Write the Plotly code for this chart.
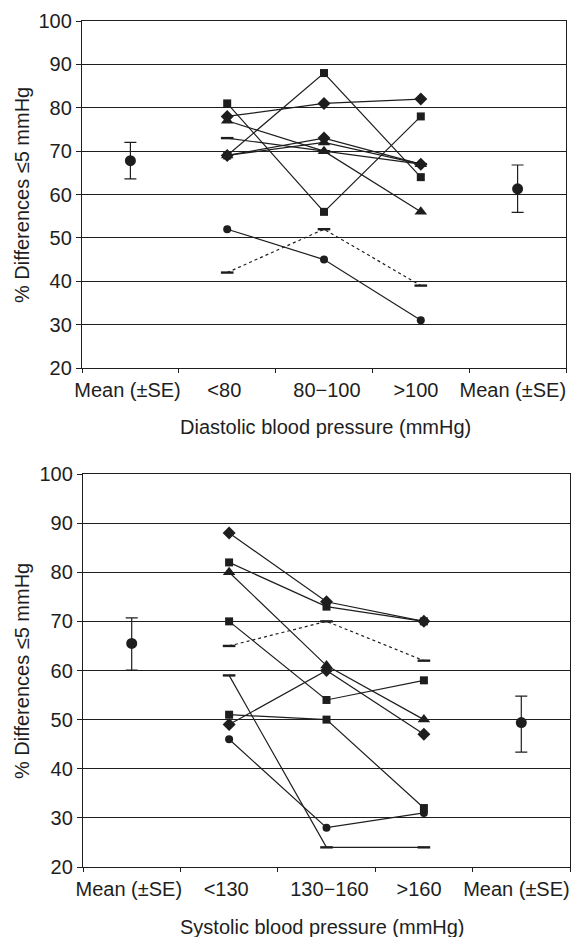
import plotly.graph_objects as go

# ---------------- data ----------------
dia_categories = ["Mean (±SE)", "<80", "80−100", ">100", "Mean (±SE)"]
sys_categories = ["Mean (±SE)", "<130", "130−160", ">160", "Mean (±SE)"]
y_tick_values = [20, 30, 40, 50, 60, 70, 80, 90, 100]

# Diastolic panel: values at the three pressure groups
dia_diamond_a = [78, 81, 82]
dia_square_a = [81, 56, 78]
dia_square_b = [69, 88, 64]
dia_diamond_b = [69, 73, 67]
dia_triangle_a = [69, 72, 67]
dia_dash_a = [73, 70, 67]
dia_triangle_b = [77, 70, 56]
dia_circle_a = [52, 45, 31]
dia_dotted_a = [42, 52, 39]

dia_mean_left = 67.8
dia_mean_left_se_plus = 4.2
dia_mean_left_se_minus = 4.2
dia_mean_right = 61.3
dia_mean_right_se_plus = 5.5
dia_mean_right_se_minus = 5.4

# Systolic panel
sys_diamond_a = [88, 74, 70]
sys_square_a = [82, 73, 70]
sys_triangle_a = [80, 61, 50]
sys_square_b = [70, 54, 58]
sys_dotted_a = [65, 70, 62]
sys_dash_a = [59, 24, 24]
sys_square_c = [51, 50, 32]
sys_diamond_b = [49, 60, 47]
sys_circle_a = [46, 28, 31]

sys_mean_left = 65.5
sys_mean_left_se_plus = 5.2
sys_mean_left_se_minus = 5.4
sys_mean_right = 49.4
sys_mean_right_se_plus = 5.4
sys_mean_right_se_minus = 6.0

# ---------------- styles ----------------
INK = "#1e1e1e"
FONT = "Liberation Sans"
FS = 20
W, H = 572, 937

group_idx = [1, 2, 3]   # category positions of the three pressure groups
label_pos = [-0.03, 0.97, 2.03, 2.95, 3.95]   # tick-label placement (style)

dia_series = [
    (dia_diamond_a, "diamond", "solid"),
    (dia_square_a, "square", "solid"),
    (dia_square_b, "square", "solid"),
    (dia_diamond_b, "diamond", "solid"),
    (dia_triangle_a, "triangle-up", "solid"),
    (dia_dash_a, "line-ew", "solid"),
    (dia_triangle_b, "triangle-up", "solid"),
    (dia_circle_a, "circle", "solid"),
    (dia_dotted_a, "line-ew", "dot"),
]
sys_series = [
    (sys_diamond_a, "diamond", "solid"),
    (sys_square_a, "square", "solid"),
    (sys_triangle_a, "triangle-up", "solid"),
    (sys_square_b, "square", "solid"),
    (sys_dotted_a, "line-ew", "dot"),
    (sys_dash_a, "line-ew", "solid"),
    (sys_square_c, "square", "solid"),
    (sys_diamond_b, "diamond", "solid"),
    (sys_circle_a, "circle", "solid"),
]

size_map = {"diamond": 10, "square": 8, "triangle-up": 11, "circle": 8, "line-ew": 9}

fig = go.Figure()


def add_series(series, xa, ya):
    for vals, sym, dash in series:
        mk = dict(symbol=sym, size=size_map[sym], color=INK,
                  line=dict(color=INK, width=2.4 if sym == "line-ew" else 0))
        fig.add_trace(go.Scatter(
            x=group_idx, y=vals, mode="lines+markers",
            line=dict(color=INK, width=1.2, dash=dash),
            marker=mk, xaxis=xa, yaxis=ya, showlegend=False))


def add_means(xa, ya, yl, lp, lm, yr, rp, rm):
    fig.add_trace(go.Scatter(
        x=[0, 4], y=[yl, yr], mode="markers",
        marker=dict(symbol="circle", size=11, color=INK),
        error_y=dict(type="data", symmetric=False, array=[lp, rp],
                     arrayminus=[lm, rm], color=INK, thickness=1.2, width=6),
        xaxis=xa, yaxis=ya, showlegend=False))


add_series(dia_series, "x", "y")
add_means("x", "y", dia_mean_left, dia_mean_left_se_plus, dia_mean_left_se_minus,
          dia_mean_right, dia_mean_right_se_plus, dia_mean_right_se_minus)
add_series(sys_series, "x2", "y2")
add_means("x2", "y2", sys_mean_left, sys_mean_left_se_plus, sys_mean_left_se_minus,
          sys_mean_right, sys_mean_right_se_plus, sys_mean_right_se_minus)


def xaxis_cfg(domain, cats, anchor):
    return dict(
        domain=domain, anchor=anchor, range=[-0.5, 4.5], automargin=False,
        tickmode="array", tickvals=label_pos, ticktext=cats,
        ticks="outside", ticklen=4, tickcolor="rgba(0,0,0,0)",
        ticklabeloverflow="allow",
        showline=True, mirror=True, linecolor=INK, linewidth=1.3,
        showgrid=False, zeroline=False, fixedrange=True,
        tickfont=dict(family=FONT, size=FS, color=INK),
        minor=dict(tickmode="array", tickvals=[i - 0.5 for i in range(len(cats) + 1)],
                   ticks="outside", ticklen=4, tickwidth=1.2, tickcolor=INK,
                   showgrid=False),
    )


def yaxis_cfg(domain, anchor):
    return dict(
        domain=domain, anchor=anchor, range=[20, 100], automargin=False,
        tickmode="array", tickvals=y_tick_values,
        ticks="outside", ticklen=5, tickwidth=1.2, tickcolor=INK,
        showline=True, mirror=True, linecolor=INK, linewidth=1.3,
        showgrid=True, gridcolor=INK, gridwidth=1.1, zeroline=False, fixedrange=True,
        tickfont=dict(family=FONT, size=FS, color=INK),
    )


fig.update_layout(
    width=W, height=H, margin=dict(l=0, r=0, t=0, b=0, autoexpand=False),
    paper_bgcolor="white", plot_bgcolor="white",
    xaxis=xaxis_cfg([82 / W, 566 / W], dia_categories, "y"),
    yaxis=yaxis_cfg([1 - 368 / H, 1 - 21 / H], "x"),
    xaxis2=xaxis_cfg([83 / W, 570 / W], sys_categories, "y2"),
    yaxis2=yaxis_cfg([1 - 867 / H, 1 - 474 / H], "x2"),
    annotations=[
        dict(text="% Differences ≤5 mmHg", xref="paper", yref="paper",
             x=22 / W, y=1 - 195 / H, textangle=-90, showarrow=False,
             xanchor="center", yanchor="middle",
             font=dict(family=FONT, size=FS, color=INK)),
        dict(text="% Differences ≤5 mmHg", xref="paper", yref="paper",
             x=22 / W, y=1 - 671 / H, textangle=-90, showarrow=False,
             xanchor="center", yanchor="middle",
             font=dict(family=FONT, size=FS, color=INK)),
        dict(text="Diastolic blood pressure (mmHg)", xref="paper", yref="paper",
             x=325 / W, y=1 - 427 / H, showarrow=False,
             xanchor="center", yanchor="middle",
             font=dict(family=FONT, size=FS, color=INK)),
        dict(text="Systolic blood pressure (mmHg)", xref="paper", yref="paper",
             x=322 / W, y=1 - 927 / H, showarrow=False,
             xanchor="center", yanchor="middle",
             font=dict(family=FONT, size=FS, color=INK)),
    ],
)

fig.write_html("out.html")
